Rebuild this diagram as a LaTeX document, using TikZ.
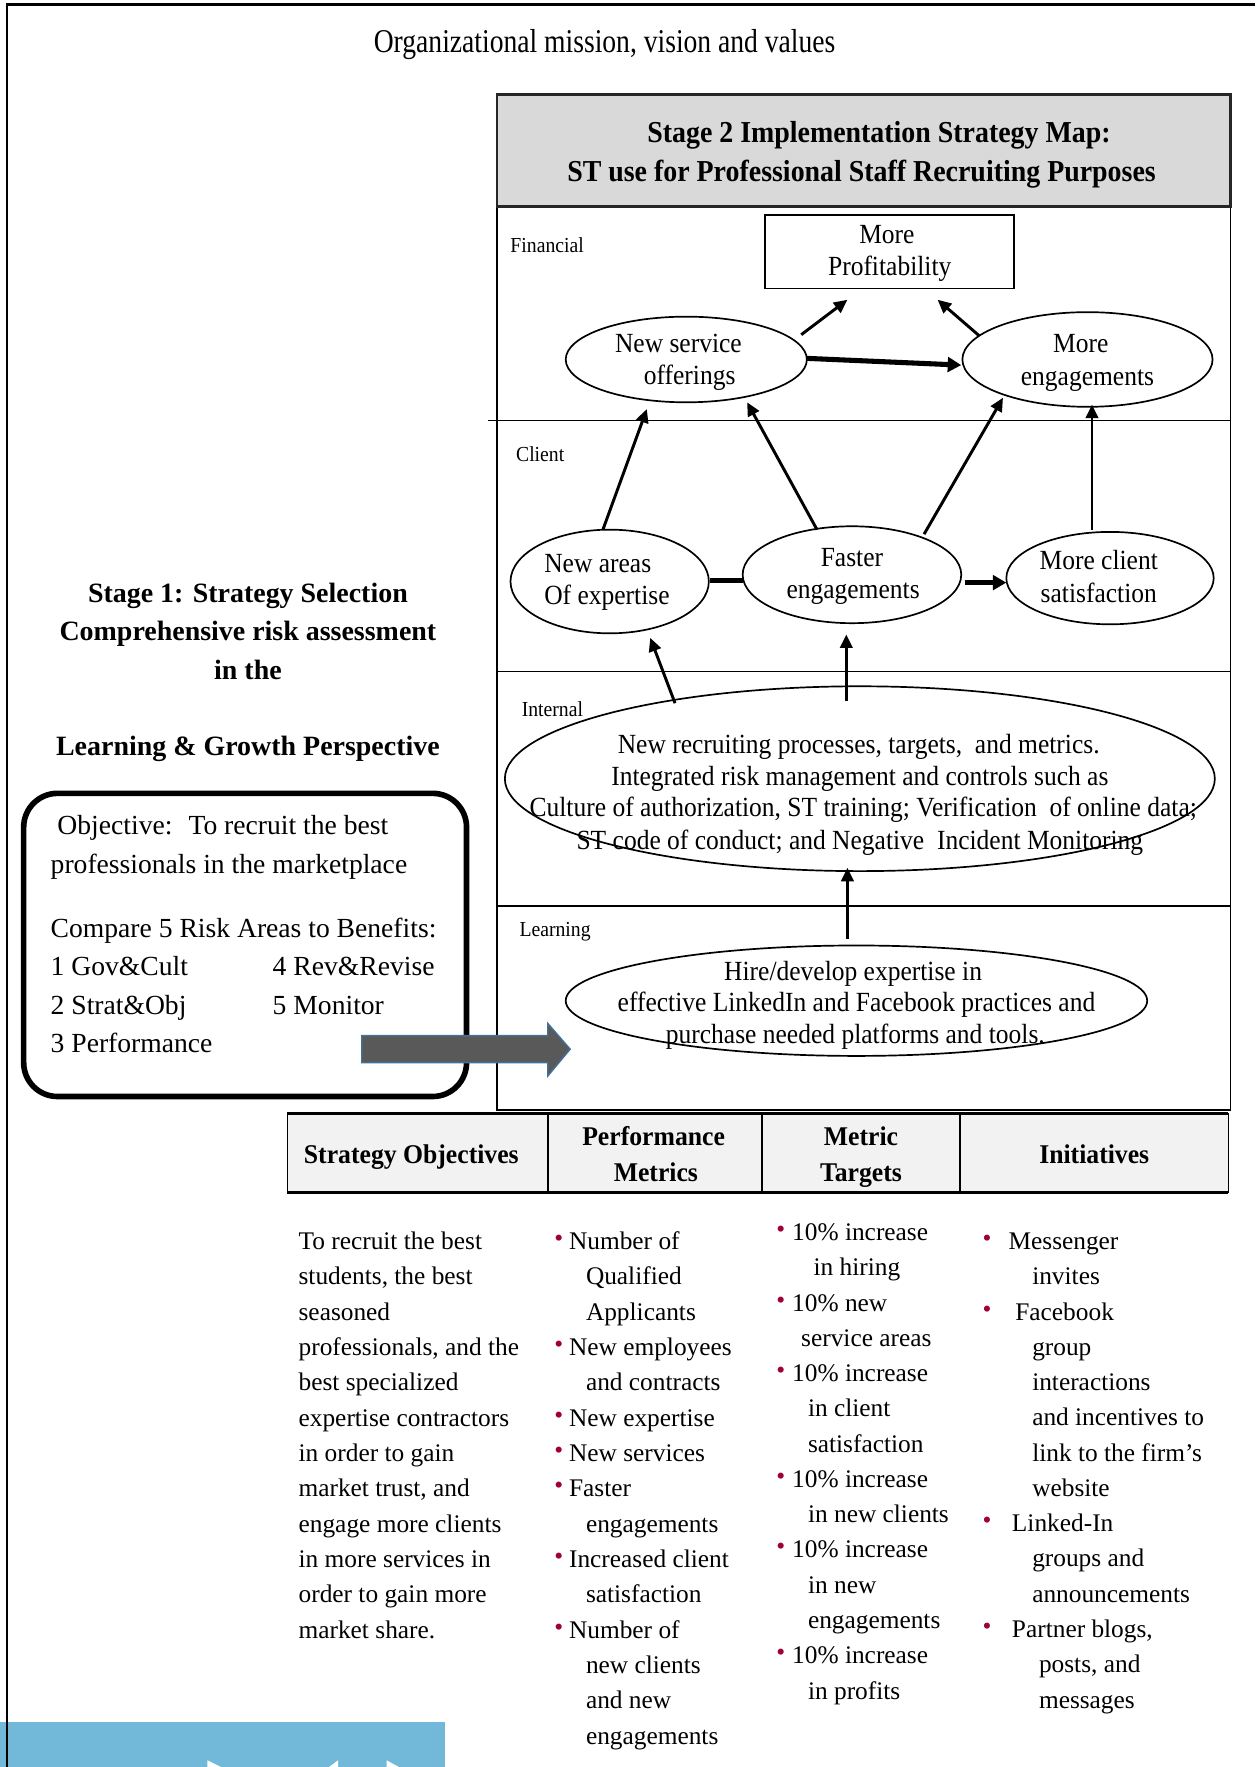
\documentclass[tikz,border=0pt]{standalone}
\usepackage{fontspec}
\setmainfont{Liberation Serif}
\newfontfamily\fhead[FakeStretch=0.83]{Liberation Serif}
\newfontfamily\fttl[FakeStretch=0.917]{Liberation Serif}
\newfontfamily\fnd[FakeStretch=0.92]{Liberation Serif}
\newfontfamily\fth[FakeStretch=0.95]{Liberation Serif}
\usetikzlibrary{shapes.geometric,arrows.meta}
\definecolor{hdrgray}{RGB}{217,217,217}
\definecolor{thgray}{RGB}{242,242,242}
\definecolor{bulred}{RGB}{160,0,50}
\definecolor{barrow}{RGB}{89,89,89}
\definecolor{barrowedge}{RGB}{65,113,156}
\definecolor{blueband}{RGB}{114,185,217}
\newcommand\bul{\textcolor{bulred}{\raisebox{0.12em}{•}}}
\newcommand\bu[1]{\makebox[#1][l]{\bul}}
\newcommand\ind[1]{\hspace*{#1}}
\tikzset{
  txt/.style={inner sep=0pt, outer sep=0pt},
  stxt/.style={txt, yshift=-5.5pt},
  mtxt/.style={stxt, anchor=mid, font=\fnd\fontsize{24.6}{28}\selectfont},
  mltxt/.style={stxt, anchor=mid west, font=\fnd\fontsize{24.6}{28}\selectfont},
  persp/.style={stxt, anchor=mid west, font=\fnd\fontsize{19}{22}\selectfont},
  sonetxt/.style={stxt, anchor=mid, font=\bfseries\fontsize{24.8}{30}\selectfont},
  objtxt/.style={stxt, anchor=mid west, font=\fontsize{24.5}{30}\selectfont},
  thtxt/.style={stxt, anchor=mid, font=\fth\bfseries\fontsize{24}{28}\selectfont},
  tbtxt/.style={stxt, anchor=mid west, font=\fontsize{22.5}{26}\selectfont},
  oval/.style={draw, ellipse, line width=1.5pt, inner sep=0pt},
  arr/.style={line width=2.6pt, -{Triangle[length=12pt,width=11pt]}},
  fatarr/.style={line width=4.5pt, -{Triangle[length=12pt,width=13pt]}},
  fatline/.style={line width=4.5pt},
  divider/.style={line width=1.3pt}
}
\begin{document}
\begin{tikzpicture}[x=1pt,y=-1pt]
\useasboundingbox (0,0) rectangle (1114,1568);

% blue band at bottom left
\fill[blueband] (0,1528) rectangle (395,1568);
\fill[white] (184,1562) -- (196,1568) -- (184,1568) -- cycle;
\fill[white] (300,1562) -- (300,1568) -- (292,1568) -- cycle;
\fill[white] (343,1562) -- (354,1568) -- (343,1568) -- cycle;

% outer frame
\draw[line width=2pt] (6,1568) -- (6,4) -- (1114,4);

\node[txt, anchor=base, font=\fhead\fontsize{29.5}{34}\selectfont] (mission) at (536.5,46.4) {Organizational mission, vision and values};

% Stage 2 frame
\node[draw, line width=1.5pt, minimum width=651pt, minimum height=802pt, inner sep=0pt] (s2box) at (766.5,584) {};
\node[draw=black!85, fill=hdrgray, line width=2.5pt, minimum width=651pt, minimum height=99pt, inner sep=0pt] (s2hdr) at (766.5,133.5) {};
\node[stxt, anchor=mid, font=\fttl\bfseries\fontsize{27}{32}\selectfont] (s2ta) at (780,119) {Stage 2 Implementation Strategy Map:};
\node[stxt, anchor=mid, font=\fttl\bfseries\fontsize{27}{32}\selectfont] (s2tb) at (764.5,153) {ST use for Professional Staff Recruiting Purposes};

\draw[divider] (433,373) -- (1092,373);
\draw[divider] (441,596) -- (1092,596);
\draw[divider] (441,804) -- (1092,804);

\node[persp] (pfin) at (453,216) {Financial};
\node[persp] (pcli) at (458,402) {Client};
\node[persp] (pint) at (463,628) {Internal};
\node[persp] (plrn) at (461,823) {Learning};

% shapes
\node[draw, line width=1.5pt, minimum width=221pt, minimum height=65pt, inner sep=0pt] (prof) at (789.5,223.5) {};
\node[oval, minimum width=214pt, minimum height=76pt] (nso) at (609,319) {};
\node[oval, minimum width=222pt, minimum height=84pt] (meng) at (965,319) {};
\node[oval, minimum width=176pt, minimum height=92pt] (nae) at (541,516) {};
\node[oval, minimum width=194pt, minimum height=86pt] (feng) at (756,510) {};
\node[oval, minimum width=184pt, minimum height=82pt] (mcs) at (985,513) {};
\node[oval, minimum width=630pt, minimum height=164pt] (intl) at (763,691) {};
\node[oval, minimum width=516pt, minimum height=98pt] (lrn) at (760,888) {};

% texts in shapes
\node[mtxt] (profa) at (787,208) {More};
\node[mtxt] (profb) at (789.5,237) {Profitability};
\node[mtxt] (nsoa) at (602,305) {New service};
\node[mtxt] (nsob) at (612,333) {offerings};
\node[mtxt] (menga) at (959,305) {More};
\node[mtxt] (mengb) at (965,334) {engagements};
\node[mltxt] (naea) at (483,500) {New areas};
\node[mltxt] (naeb) at (483,529) {Of expertise};
\node[mtxt] (fenga) at (756,495) {Faster};
\node[mtxt] (fengb) at (757,523) {engagements};
\node[mtxt] (mcsa) at (975,498) {More client};
\node[mtxt] (mcsb) at (975,527) {satisfaction};
\node[mtxt] (intla) at (762,661) {New recruiting processes, targets,~ and metrics.};
\node[mtxt] (intlb) at (763,689) {Integrated risk management and controls such as};
\node[mtxt] (intlc) at (766,717) {Culture of authorization, ST training; Verification~ of online data;};
\node[mtxt] (intld) at (763,746) {ST code of conduct; and Negative~ Incident Monitoring};
\node[mtxt] (lrna) at (757,862) {Hire/develop expertise in};
\node[mtxt] (lrnb) at (760,890) {effective LinkedIn and Facebook practices and};
\node[mtxt] (lrnc) at (759,918) {purchase needed platforms and tools.};

% connectors
\draw[arr] ([shift={(102,-22)}]nso.center) -- ([shift={(-37.5,42.5)}]prof.center);
\draw[arr] ([shift={(-96,-21)}]meng.center) -- ([shift={(42.5,42.5)}]prof.center);
\draw[fatarr] ([shift={(107,-1)}]nso.center) -- ([shift={(-112,5)}]meng.center);
\draw[arr] ([shift={(-6,-46)}]nae.center) -- ([shift={(-35,44)}]nso.center);
\draw[arr] ([shift={(-31,-40)}]feng.center) -- ([shift={(54,38)}]nso.center);
\draw[arr] ([shift={(64,-36)}]feng.center) -- ([shift={(-75,34)}]meng.center);
\draw[arr] ([shift={(-16,-43)}]mcs.center) -- ([shift={(4,40)}]meng.center);
\draw[fatline] ([shift={(89,-1)}]nae.center) -- ([shift={(-97,5)}]feng.center);
\draw[fatarr] ([shift={(100,7)}]feng.center) -- ([shift={(-92,4)}]mcs.center);
\draw[arr] ([shift={(-164,-67)}]intl.center) -- ([shift={(36,50)}]nae.center);
\draw[arr] ([shift={(-12,-69)}]intl.center) -- ([shift={(-5,53)}]feng.center);
\draw[arr] ([shift={(-8,-55)}]lrn.center) -- ([shift={(-11,79)}]intl.center);

% Stage 1
\node[sonetxt] (s1a) at (220,527) {Stage 1: Strategy Selection};
\node[sonetxt] (s1b) at (220,561) {Comprehensive risk assessment};
\node[sonetxt] (s1c) at (220,595) {in the};
\node[sonetxt] (s1d) at (220,663) {Learning \& Growth Perspective};

\node[draw, line width=5pt, rounded corners=30pt, minimum width=393pt, minimum height=269pt, inner sep=0pt] (obj) at (217.5,838.5) {};
\node[objtxt] (oba) at (51,733) {Objective:~ To recruit the best};
\node[objtxt] (obb) at (45,767) {professionals in the marketplace};
\node[objtxt] (obc) at (45,824) {Compare 5 Risk Areas to Benefits:};
\node[objtxt] (obd) at (45,858) {1 Gov\&Cult};
\node[objtxt] (obe) at (242,858) {4 Rev\&Revise};
\node[objtxt] (obf) at (45,892) {2 Strat\&Obj};
\node[objtxt] (obg) at (242,892) {5 Monitor};
\node[objtxt] (obh) at (45,926) {3 Performance};

% block arrow
\draw[fill=barrow, draw=barrowedge, line width=1.2pt]
  (321,919) -- (486,919) -- (486,908) -- (506,931) -- (486,955) -- (486,943) -- (321,943) -- cycle;

% table header
\node[draw, fill=thgray, line width=1.5pt, minimum width=835pt, minimum height=70pt, inner sep=0pt] (thead) at (672.5,1023) {};
\draw[line width=2.5pt] (255,988) -- (1090,988);
\draw[line width=2.5pt] (255,1058) -- (1090,1058);
\draw[line width=1.5pt] (486,988) -- (486,1058);
\draw[line width=1.5pt] (676,988) -- (676,1058);
\draw[line width=1.5pt] (852,988) -- (852,1058);
\node[thtxt] (tha) at (365,1025) {Strategy Objectives};
\node[thtxt] (thb) at (580,1009) {Performance};
\node[thtxt] (thc) at (582,1041) {Metrics};
\node[thtxt] (thd) at (764,1009) {Metric};
\node[thtxt] (the) at (764,1041) {Targets};
\node[thtxt] (thf) at (971,1025) {Initiatives};

% table body
\foreach \tx [count=\i from 0] in {To recruit the best, {students, the best}, seasoned, {professionals, and the}, best specialized, expertise contractors, in order to gain, {market trust, and}, engage more clients, in more services in, order to gain more, market share.}
  \node[tbtxt] (ca\i) at (265,{1101+31.36*\i}) {\tx};

\foreach \tx [count=\i from 0] in {\bu{13pt}Number of, \ind{28pt}Qualified, \ind{28pt}Applicants, \bu{13pt}New employees, \ind{28pt}and contracts, \bu{13pt}New expertise, \bu{13pt}New services, \bu{13pt}Faster, \ind{28pt}engagements, \bu{13pt}Increased client, \ind{28pt}satisfaction, \bu{13pt}Number of, \ind{28pt}new clients, \ind{28pt}and new, \ind{28pt}engagements}
  \node[tbtxt] (cb\i) at (492,{1101+31.36*\i}) {\tx};

\foreach \tx [count=\i from 0] in {\bu{14pt}10\% increase, \ind{33pt}in hiring, \bu{14pt}10\% new, \ind{22pt}service areas, \bu{14pt}10\% increase, \ind{28pt}in client, \ind{28pt}satisfaction, \bu{14pt}10\% increase, \ind{28pt}in new clients, \bu{14pt}10\% increase, \ind{28pt}in new, \ind{28pt}engagements, \bu{14pt}10\% increase, \ind{28pt}in profits}
  \node[tbtxt] (cc\i) at (689,{1093+31.3*\i}) {\tx};

\foreach \tx [count=\i from 0] in {\bu{23pt}Messenger, \ind{44pt}invites, \bu{29pt}Facebook, \ind{44pt}group, \ind{44pt}interactions, \ind{44pt}and incentives to, \ind{44pt}link to the firm’s, \ind{44pt}website, \bu{26pt}Linked-In, \ind{44pt}groups and, \ind{44pt}announcements, {\bu{26pt}Partner blogs,}, {\ind{50pt}posts, and}, \ind{50pt}messages}
  \node[tbtxt] (cd\i) at (872,{1101+31.3*\i}) {\tx};

\end{tikzpicture}
\end{document}
